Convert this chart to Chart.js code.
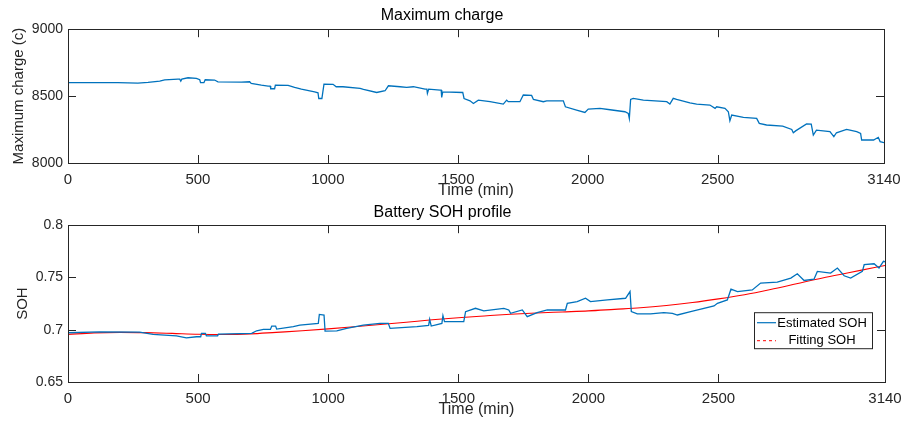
<!DOCTYPE html>
<html>
<head>
<meta charset="utf-8">
<script src="https://cdn.jsdelivr.net/npm/chart.js@4/dist/chart.umd.min.js"></script>
<style>
body{margin:0;background:#fff;}
#wrap1{position:absolute;left:0;top:0;width:906px;height:212px;}
#wrap2{position:absolute;left:0;top:200px;width:906px;height:224px;}
</style>
</head>
<body>
<div id="wrap1"><canvas id="charge" width="906" height="212"></canvas></div>
<div id="wrap2"><canvas id="soh" width="906" height="224"></canvas></div>
<script>
// time axis ticks (min)
var timeTicks = [0, 500, 1000, 1500, 2000, 2500, 3140];

// maximum charge (c)
var chargeTime = [0,192,269,308,353,372,423,430,434,438,462,494,507,510,523,528,564,577,667,699,705,744,770,778,780,795,798,847,872,898,949,962,965,977,985,1020,1032,1058,1124,1137,1188,1220,1233,1278,1303,1329,1374,1381,1383,1388,1432,1436,1438,1442,1519,1524,1547,1560,1579,1624,1675,1688,1694,1739,1752,1784,1791,1829,1842,1906,1914,1957,1989,2002,2047,2086,2143,2156,2160,2165,2175,2214,2304,2316,2329,2342,2393,2419,2470,2490,2496,2528,2541,2547,2554,2599,2650,2660,2688,2750,2785,2791,2800,2842,2860,2868,2880,2932,2947,2957,2996,3035,3050,3054,3100,3118,3125,3140];
var chargeVal = [8600,8600,8597,8603,8612,8622,8627,8627,8612,8627,8637,8633,8622,8600,8600,8622,8620,8607,8605,8607,8595,8582,8575,8575,8555,8555,8582,8580,8565,8552,8532,8525,8482,8482,8590,8588,8570,8570,8557,8550,8527,8540,8577,8570,8565,8570,8552,8552,8520,8552,8545,8545,8490,8532,8527,8482,8465,8445,8470,8458,8440,8470,8458,8458,8508,8505,8475,8458,8465,8465,8420,8396,8378,8403,8408,8398,8383,8371,8333,8475,8483,8470,8458,8440,8483,8475,8450,8440,8433,8408,8420,8408,8383,8316,8358,8341,8333,8296,8284,8275,8251,8226,8240,8292,8290,8209,8246,8234,8197,8226,8251,8234,8221,8172,8172,8192,8160,8152];

// estimated SOH
var sohTime = [0,122,275,327,417,455,494,510,513,528,532,575,578,706,725,751,778,783,798,802,866,891,962,966,984,988,1033,1071,1135,1199,1231,1238,1341,1386,1390,1396,1437,1441,1447,1521,1528,1566,1598,1675,1694,1701,1746,1765,1803,1842,1912,1919,1957,1989,2008,2073,2143,2160,2165,2188,2239,2290,2323,2342,2393,2444,2483,2496,2534,2548,2573,2630,2662,2726,2778,2803,2829,2867,2880,2931,2957,2983,3008,3053,3060,3098,3117,3134,3140];
var sohVal = [0.6971,0.698,0.6978,0.6955,0.6942,0.6923,0.6933,0.6933,0.6965,0.6965,0.6942,0.6942,0.6958,0.6965,0.699,0.7003,0.7003,0.7035,0.7035,0.7006,0.7029,0.7045,0.7061,0.7147,0.7141,0.6987,0.699,0.7013,0.7045,0.7061,0.7061,0.7013,0.7029,0.7042,0.71,0.7035,0.7061,0.7135,0.7077,0.7077,0.7173,0.7205,0.718,0.7205,0.7189,0.7157,0.7189,0.7125,0.7163,0.7189,0.7189,0.7253,0.7269,0.7301,0.7269,0.7285,0.7301,0.7365,0.7173,0.7151,0.7151,0.7163,0.7157,0.7141,0.7173,0.7205,0.7228,0.7253,0.7285,0.7388,0.7365,0.7381,0.7446,0.7455,0.7494,0.7535,0.7471,0.7484,0.7558,0.7542,0.759,0.7516,0.7494,0.7558,0.7622,0.7631,0.759,0.7654,0.765];

// fitting SOH
var fitTime = [0,100,200,300,400,500,600,700,800,900,1000,1100,1200,1300,1400,1500,1600,1700,1800,1900,2000,2100,2200,2300,2400,2500,2600,2700,2800,2900,3000,3100,3140];
var fitVal = [0.6955,0.697,0.6975,0.6972,0.6965,0.6957,0.6955,0.696,0.6975,0.699,0.7008,0.7028,0.705,0.7072,0.7095,0.7115,0.7132,0.7148,0.716,0.717,0.718,0.7195,0.721,0.7232,0.726,0.7295,0.7335,0.7385,0.744,0.7495,0.7545,0.7595,0.7615];

var axisCol = '#262626';
var fnt = 'Liberation Sans, Arial, Helvetica, sans-serif';
Chart.defaults.font.family = fnt;
Chart.defaults.color = axisCol;

function pts(xs, ys){
    var out = [];
    for (var i = 0; i < xs.length; i++) out.push({x: xs[i], y: ys[i]});
    return out;
}

// MATLAB-like box with inward ticks
var boxPlugin = {
    id: 'box',
    afterDatasetsDraw: function(chart){
        var ctx = chart.ctx, a = chart.chartArea;
        var xs = chart.scales.x, ys = chart.scales.y;
        var len = 8;
        ctx.save();
        ctx.strokeStyle = axisCol;
        ctx.lineWidth = 1;
        ctx.beginPath();
        xs.ticks.forEach(function(t){
            var px = Math.round(xs.getPixelForValue(t.value)) + 0.5;
            ctx.moveTo(px, a.bottom); ctx.lineTo(px, a.bottom - len);
            ctx.moveTo(px, a.top); ctx.lineTo(px, a.top + len);
        });
        ys.ticks.forEach(function(t){
            var py = Math.round(ys.getPixelForValue(t.value)) + 0.5;
            ctx.moveTo(a.left, py); ctx.lineTo(a.left + len, py);
            ctx.moveTo(a.right, py); ctx.lineTo(a.right - len, py);
        });
        ctx.stroke();
        ctx.strokeRect(Math.round(a.left) + 0.5, Math.round(a.top) + 0.5, Math.round(a.right - a.left), Math.round(a.bottom - a.top));
        ctx.restore();
    }
};

var legendPlugin = {
    id: 'sohLegend',
    afterDraw: function(chart){
        if (chart.canvas.id !== 'soh') return;
        var ctx = chart.ctx, a = chart.chartArea;
        var bx = a.right - 131, by = a.top + 87, bw = 118, bh = 36;
        ctx.save();
        ctx.fillStyle = '#fff';
        ctx.fillRect(bx, by, bw, bh);
        ctx.strokeStyle = axisCol;
        ctx.lineWidth = 1;
        ctx.strokeRect(bx + 0.5, by + 0.5, bw, bh);
        ctx.font = '13px ' + fnt;
        ctx.fillStyle = '#000';
        ctx.textAlign = 'center';
        ctx.textBaseline = 'middle';
        // estimated
        ctx.strokeStyle = '#0072BD';
        ctx.lineWidth = 1.2;
        ctx.beginPath(); ctx.moveTo(bx + 3, by + 10.5); ctx.lineTo(bx + 22, by + 10.5); ctx.stroke();
        ctx.fillText('Estimated SOH', bx + 68, by + 11);
        // fitting
        ctx.strokeStyle = '#FF0000';
        ctx.lineWidth = 1;
        ctx.setLineDash([3, 3]);
        ctx.beginPath(); ctx.moveTo(bx + 3, by + 28.5); ctx.lineTo(bx + 22, by + 28.5); ctx.stroke();
        ctx.setLineDash([]);
        ctx.fillText('Fitting SOH', bx + 68, by + 28.5);
        ctx.restore();
    }
};

function fmt(v){
    return String(Math.round(v * 10000) / 10000);
}

function makeChart(id, datasets, ymin, ymax, ystep, ytitle, ytitlePad, titleText, titlePad, xHeight, xTitlePad, rightPad){
    var ctx = document.getElementById(id).getContext('2d');
    return new Chart(ctx, {
        type: 'line',
        data: {datasets: datasets},
        plugins: [boxPlugin, legendPlugin],
        options: {
            responsive: false,
            animation: false,
            devicePixelRatio: 1,
            layout: {padding: {left: 0, right: rightPad, top: 0, bottom: 0}},
            elements: {point: {radius: 0}, line: {tension: 0}},
            plugins: {
                legend: {display: false},
                tooltip: {enabled: false},
                title: {
                    display: true,
                    text: titleText,
                    color: '#000',
                    font: {size: 16, weight: 'normal'},
                    padding: titlePad
                }
            },
            scales: {
                x: {
                    type: 'linear',
                    min: 0,
                    max: 3140,
                    grid: {display: false, drawTicks: false},
                    border: {display: false},
                    afterBuildTicks: function(s){ s.ticks = timeTicks.map(function(v){ return {value: v}; }); },
                    afterFit: function(s){ s.height = xHeight; s.paddingLeft = 0; s.paddingRight = 0; },
                    ticks: {padding: 8, font: {size: 15}, maxRotation: 0, autoSkip: false,
                        callback: function(v){ return String(v); }},
                    title: {display: true, text: 'Time (min)', font: {size: 16}, padding: {top: 0, bottom: xTitlePad}}
                },
                y: {
                    min: ymin,
                    max: ymax,
                    grid: {display: false, drawTicks: false},
                    border: {display: false},
                    afterFit: function(s){ s.width = 68; s.paddingTop = 0; s.paddingBottom = 0; },
                    ticks: {stepSize: ystep, padding: 5, font: {size: 14}, callback: fmt},
                    title: {display: true, text: ytitle, font: {size: 15}, padding: {top: ytitlePad, bottom: 0}}
                }
            }
        }
    });
}

var chart1 = makeChart('charge', [{
    label: 'Maximum charge',
    data: pts(chargeTime, chargeVal),
    borderColor: '#0072BD',
    borderWidth: 1.3
}], 8000, 9000, 500, 'Maximum charge (c)', 10, 'Maximum charge', {top: 6, bottom: 4}, 49, 12, 22);

var chart2 = makeChart('soh', [{
    label: 'Estimated SOH',
    data: pts(sohTime, sohVal),
    borderColor: '#0072BD',
    borderWidth: 1.3
}, {
    label: 'Fitting SOH',
    data: pts(fitTime, fitVal),
    borderColor: '#FF0000',
    borderWidth: 1.1,
    tension: 0.4,
    cubicInterpolationMode: 'monotone'
}], 0.65, 0.8, 0.05, 'SOH', 14, 'Battery SOH profile', {top: 3, bottom: 3}, 42, 5, 21);
</script>
</body>
</html>
